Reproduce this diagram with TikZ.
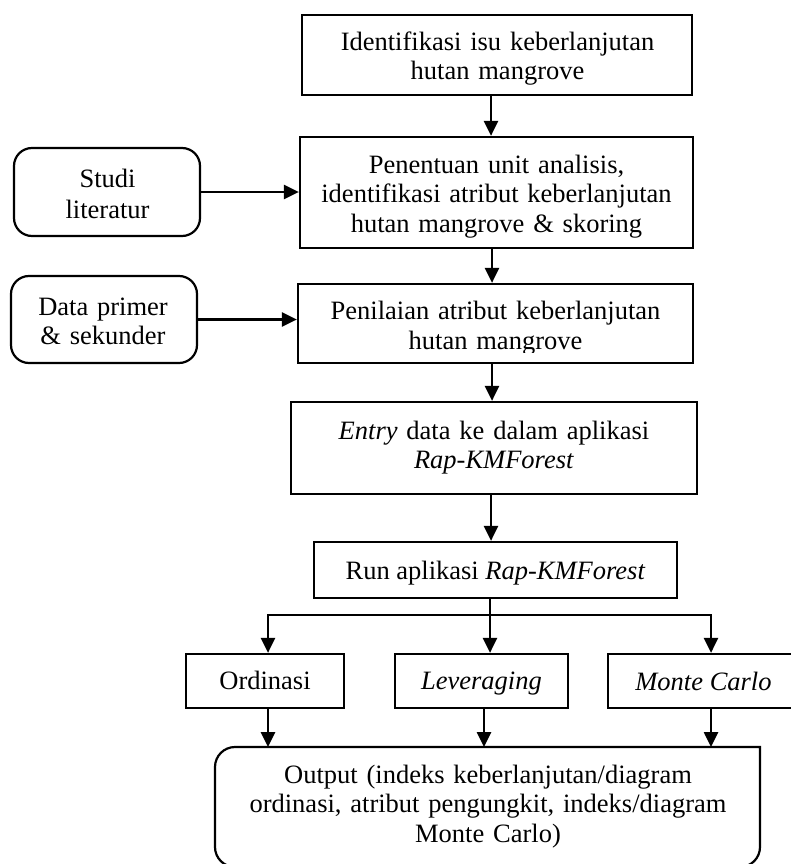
\documentclass[tikz,border=0pt]{standalone}
\usepackage{fontspec}
\setmainfont{Liberation Serif}
\usetikzlibrary{arrows.meta}
\begin{document}
\begin{tikzpicture}[x=1pt,y=-1pt,
  box/.style={draw, line width=2.2pt, rectangle, inner sep=0pt},
  rbox/.style={box, rounded corners=18pt},
  txt/.style={anchor=base, align=center, inner sep=0pt, font=\fontsize{26.5pt}{29.5pt}\selectfont},
  arr/.style={line width=2.6pt, -{Triangle[length=15pt,width=14pt]}},
]
\useasboundingbox (0,0) rectangle (790,864);

% boxes
\node[box, minimum width=390pt, minimum height=80pt] (b1) at (497,55) {};
\node[box, minimum width=393pt, minimum height=111pt] (b2) at (496.5,192.5) {};
\node[box, minimum width=395pt, minimum height=79pt] (b3) at (495.5,323.5) {};
\node[rbox, minimum width=186pt, minimum height=88pt] (studi) at (107,192) {};
\node[rbox, minimum width=186pt, minimum height=87pt] (data) at (104,319.5) {};
\node[box, minimum width=406pt, minimum height=92pt] (entry) at (494,448) {};
\node[box, minimum width=363pt, minimum height=56pt] (run) at (495.5,570) {};
\node[box, minimum width=158pt, minimum height=54pt] (ord) at (265,681) {};
\node[box, minimum width=173pt, minimum height=54pt] (lev) at (481.5,681) {};
\node[box, minimum width=200pt, minimum height=54pt] (mc) at (708,681) {};
\node[inner sep=0pt, outer sep=0pt, minimum width=545pt, minimum height=120pt] (out) at (487.5,807) {};
\draw[line width=2.2pt, rounded corners=20pt, line cap=rect]
  (out.north east) -- (out.south east) -- (out.south west) -- (out.north west) -- (out.north east);

% texts
\begin{scope}
  \clip (b1.north west) rectangle ([yshift=8pt]b1.south east);
  \node[txt, text width=380pt] (t1) at (497.5,50.5) {Identifikasi isu keberlanjutan\\hutan mangrove};
\end{scope}
\begin{scope}
  \clip (b2.north west) rectangle ([yshift=11pt]b2.south east);
  \node[txt, text width=385pt] (t2) at (496.5,173) {Penentuan unit analisis,\\identifikasi atribut keberlanjutan\\hutan mangrove \& skoring};
\end{scope}
\begin{scope}
  \clip (b3.north west) rectangle ([yshift=12pt]b3.south east);
  \node[txt, text width=385pt] (t3) at (495.5,319.5) {Penilaian atribut keberlanjutan\\hutan mangrove};
\end{scope}
\node[txt, text width=180pt] (ts) at (107.5,187) {Studi\\[2pt]literatur};
\node[txt, text width=180pt] (td) at (103,315) {Data primer\\\& sekunder};
\node[txt, text width=400pt] (te) at (494,439) {\textit{Entry} data ke dalam aplikasi\\\textit{Rap-KMForest}};
\node[txt] (tr) at (495.5,579) {Run aplikasi \textit{Rap-KMForest}};
\node[txt] (to) at (265,689) {Ordinasi};
\node[txt] (tl) at (481.5,689) {\textit{Leveraging}};
\node[txt] (tm) at (703.5,690) {\textit{Monte Carlo}};
\node[txt, text width=540pt] (tout) at (488,783) {Output (indeks keberlanjutan/diagram\\ordinasi, atribut pengungkit, indeks/diagram\\Monte Carlo)};

% connector x positions
\coordinate (x12) at (491,0);
\coordinate (x23) at (492,0);
\coordinate (x34) at (492,0);
\coordinate (x45) at (491,0);
\coordinate (br) at (490,615);
\coordinate (brL) at (268,615);
\coordinate (brR) at (711,615);
\coordinate (xl) at (484,0);

% connectors
\draw[arr] (b1.south -| x12) -- (b2.north -| x12);
\draw[arr] (b2.south -| x23) -- (b3.north -| x23);
\draw[arr] (b3.south -| x34) -- (entry.north -| x34);
\draw[arr] (entry.south -| x45) -- (run.north -| x45);
\draw[arr] (studi.east) -- (studi.east -| b2.west);
\draw[arr] (data.east) -- (data.east -| b3.west);
\draw[arr] (run.south -| br) -- (br) -| (ord.north -| brL);
\draw[arr] (br) -- (lev.north -| br);
\draw[arr] (br) -| (mc.north -| brR);
\draw[arr] (ord.south -| brL) -- (out.north -| brL);
\draw[arr] (lev.south -| xl) -- (out.north -| xl);
\draw[arr] (mc.south -| brR) -- (out.north -| brR);
\end{tikzpicture}
\end{document}
